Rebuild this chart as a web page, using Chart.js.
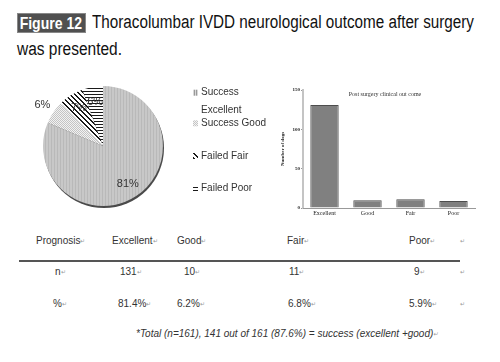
<!DOCTYPE html>
<html><head><meta charset="utf-8">
<script src="https://cdn.jsdelivr.net/npm/chart.js@4.4.0/dist/chart.umd.min.js"></script>
<style>
html,body{margin:0;padding:0;background:#fff;width:500px;height:362px;overflow:hidden;position:relative;font-family:"Liberation Sans",Arial,sans-serif;color:#222}
.abs{position:absolute;white-space:nowrap}
.fit{display:inline-block;transform-origin:0 0}
#figbox{left:17px;top:13px;width:69px;height:20px;background:#505050;border:1px solid #888;box-sizing:border-box;overflow:hidden}
#figtxt{color:#fff;font:bold 17px "Liberation Sans",sans-serif;line-height:19px;padding-left:2px}
.t{font-size:10px;line-height:12px;color:#333}
.rm{font-size:6px;color:#999;vertical-align:top}
#rule{left:19px;top:260px;width:441px;height:2px;background:#555}
</style></head>
<body>
<div id="figbox" class="abs"><span id="figtxt" class="fit">Figure 12</span></div>
<div class="abs" style="left:92px;top:12px;font-size:18px;line-height:21px;color:#111"><span id="ttl" class="fit">Thoracolumbar IVDD neurological outcome after surgery</span></div>
<div class="abs" style="left:17px;top:39px;font-size:18px;line-height:21px;color:#111"><span id="ttl2" class="fit">was presented.</span></div>

<canvas id="pie" class="abs" style="left:0;top:70px" width="280" height="155"></canvas>
<canvas id="bar" class="abs" style="left:280px;top:80px" width="205" height="145"></canvas>

<div id="rule" class="abs"></div>
<div id="table"></div>

<script>
// ---- data ----
const categories = ['Excellent', 'Good', 'Fair', 'Poor'];
const counts = [131, 10, 11, 9];
const percents = ['81.4%', '6.2%', '6.8%', '5.9%'];
const pieLegend = [['Success', 'Excellent'], ['Success Good'], ['Failed Fair'], ['Failed Poor']];
const barTitle = 'Post surgery clinical out come';
const yTitle = 'Number of dogs';
const yTicks = [0, 50, 100, 150];
const tableHead = 'Prognosis';
const rowLabels = ['n', '%'];
const footnote = '*Total (n=161), 141 out of 161 (87.6%) = success (excellent +good)';

// ---- fit title text ----
function fit(id, w){ const el=document.getElementById(id); const r=w/el.getBoundingClientRect().width; el.style.transform='scaleX('+r+')'; }
fit('figtxt', 64); fit('ttl', 382); fit('ttl2', 105);

// ---- patterns ----
function pat(w,h,bg,fg,fn){
  const c=document.createElement('canvas'); c.width=w; c.height=h; const x=c.getContext('2d');
  x.fillStyle=bg; x.fillRect(0,0,w,h); x.fillStyle=fg;
  for(let i=0;i<w;i++)for(let j=0;j<h;j++) if(fn(i,j)) x.fillRect(i,j,1,1);
  return document.createElement('canvas').getContext('2d').createPattern(c,'repeat');
}
const pExc = pat(3,3,'#c8c8c8','#b9b9b9',(i,j)=>i===0);
const pGood = pat(2,2,'#f2f2f2','#c4c4c4',(i,j)=>i===j);
const pFair = pat(5,5,'#ffffff','#1a1a1a',(i,j)=>((i-j+10)%5)<2);
const pPoor = pat(1,3,'#ffffff','#1a1a1a',(i,j)=>j===0);
const fills = [pExc,pGood,pFair,pPoor];
const legendFills = [pat(2,1,'#d8d8d8','#999',(i)=>i===0), pGood, pFair, pPoor];

// ---- pie chart ----
const total = counts.reduce((a,b)=>a+b,0);
const pieDeco = {
  id:'pieDeco',
  beforeDatasetsDraw(ch){
    const a=ch.getDatasetMeta(0).data[0]; const c=ch.ctx;
    c.save(); c.fillStyle='#4a4a4a'; c.beginPath(); c.arc(a.x+1,a.y+2,a.outerRadius,0,Math.PI*2); c.fill(); c.restore();
  },
  afterDatasetsDraw(ch){
    const c=ch.ctx; c.save();
    c.font='11px "Liberation Sans", sans-serif'; c.fillStyle='#333'; c.textAlign='center'; c.textBaseline='middle';
    ch.getDatasetMeta(0).data.forEach((a,i)=>{
      const mid=(a.startAngle+a.endAngle)/2; const f = i===1?1.22:0.75;
      const txt=Math.round(counts[i]/total*100)+'%';
      c.fillText(txt, a.x+Math.cos(mid)*a.outerRadius*f, a.y+Math.sin(mid)*a.outerRadius*f);
    });
    // legend
    const ys=[[22.7,40],[53.3],[86],[118.3]];
    c.textAlign='left'; c.font='10px "Liberation Sans", sans-serif';
    pieLegend.forEach((lines,i)=>{
      c.fillStyle=legendFills[i]; c.fillRect(193,ys[i][0]-3,5,6);
      c.fillStyle='#333';
      lines.forEach((l,k)=>c.fillText(l,201,ys[i][k]));
    });
    c.restore();
  }
};
new Chart(document.getElementById('pie'),{
  type:'pie',
  data:{labels:pieLegend.map(l=>l.join(' ')), datasets:[{data:counts, backgroundColor:fills, borderWidth:0}]},
  options:{responsive:false, animation:false, layout:{padding:{left:43,right:117,top:16,bottom:19}},
    plugins:{legend:{display:false}, tooltip:{enabled:false}}},
  plugins:[pieDeco]
});

// ---- bar chart ----
const serif='"Liberation Serif", "DejaVu Serif", serif';
const barDeco = {
  id:'barDeco',
  afterDatasetsDraw(ch){
    const c=ch.ctx, a=ch.chartArea; c.save();
    c.font='6px '+serif; c.fillStyle='#333'; c.textAlign='center'; c.textBaseline='middle';
    c.fillText(barTitle,(a.left+a.right)/2-4,a.top+4.5); c.restore();
  }
};
new Chart(document.getElementById('bar'),{
  type:'bar',
  data:{labels:categories, datasets:[{data:counts, backgroundColor:'#808080', borderColor:'#4d4d4d', borderWidth:1, categoryPercentage:0.66, barPercentage:1}]},
  options:{responsive:false, animation:false, layout:{padding:{top:10,right:10,left:0,bottom:0}},
    plugins:{legend:{display:false}, tooltip:{enabled:false}},
    scales:{
      y:{min:0,max:150, afterBuildTicks(s){s.ticks=yTicks.map(v=>({value:v}));},
        ticks:{font:{family:serif,size:5,weight:'bold'},color:'#222',padding:1},
        grid:{drawOnChartArea:false,tickLength:2,color:'#999'},
        border:{color:'#c4c4c4',width:2},
        title:{display:true,text:yTitle,font:{family:serif,size:5,weight:'bold'},color:'#222',padding:0},
        afterFit(s){s.width=23;}},
      x:{ticks:{font:{family:serif,size:6},color:'#222',padding:2},
        grid:{drawOnChartArea:false,tickLength:0,color:'#999'},
        border:{color:'#999',width:1},
        afterFit(s){s.height=17;}}
    }},
  plugins:[barDeco]
});

// ---- table ----
const tb=document.getElementById('table');
function cell(txt,x,yc,mark=true,extra=''){
  const d=document.createElement('div'); d.className='abs t'; d.style.left=x+'px'; d.style.top=(yc-6)+'px';
  if(extra) d.style.cssText+=extra;
  d.appendChild(document.createTextNode(txt));
  if(mark){const m=document.createElement('span'); m.className='rm'; m.textContent='\u21B5'; d.appendChild(m);}
  tb.appendChild(d);
}
const colX=[112,177,287,409];
const rowY=[272,304];
cell(tableHead,36,241);
categories.forEach((c,i)=>cell(c,colX[i],241));
cell('',460,241);
const valX=[[120,184,289,414],[118,177,288,409]];
rowLabels.forEach((r,k)=>{
  cell(r, k===0?55:53, rowY[k]);
  const vals = k===0?counts.map(String):percents;
  vals.forEach((v,i)=>cell(v,valX[k][i],rowY[k]));
  cell('',460,rowY[k]);
});
cell(footnote,136,334,true,'font-style:italic;');
</script>
</body></html>
